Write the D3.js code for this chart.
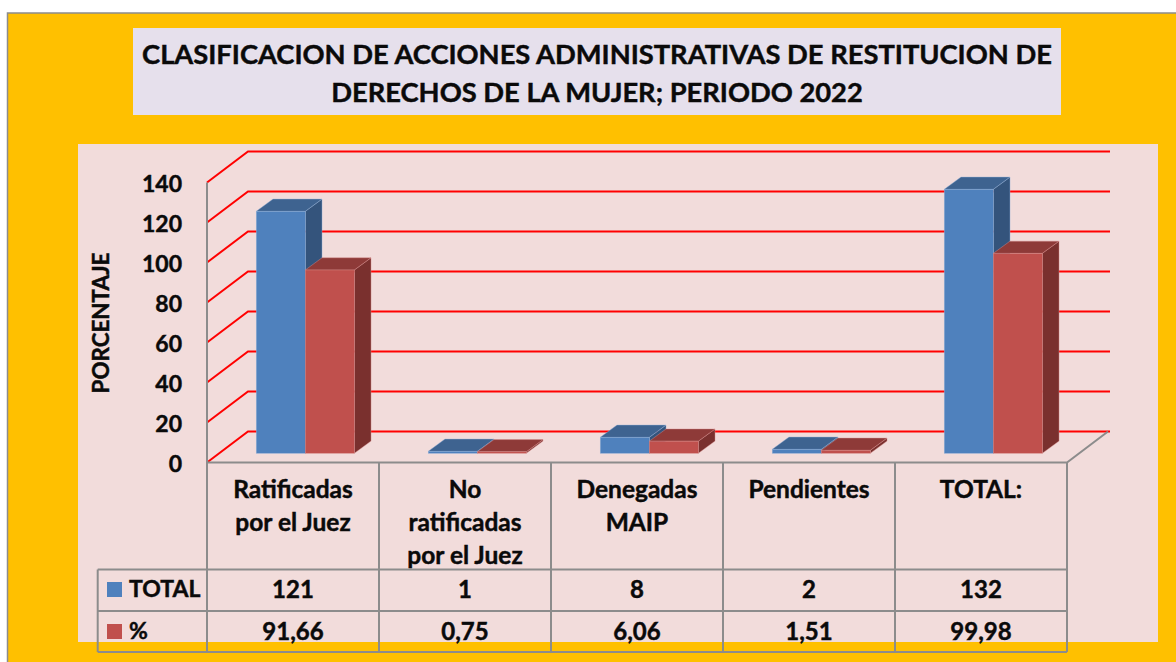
<!DOCTYPE html>
<html><head><meta charset="utf-8">
<script src="https://cdn.jsdelivr.net/npm/d3@7/dist/d3.min.js"></script>
<style>html,body{margin:0;background:#fff;overflow:hidden}svg{display:block}text{font-family:Lato,sans-serif;font-weight:700;fill:#0a0a0a;stroke:#0a0a0a;stroke-width:.45px}</style>
</head><body><svg id="c" width="1176" height="662"></svg>
<script>
const titleLines=["CLASIFICACION DE ACCIONES ADMINISTRATIVAS DE RESTITUCION DE","DERECHOS DE LA MUJER; PERIODO 2022"];
const categories=["Ratificadas por el Juez","No ratificadas por el Juez","Denegadas MAIP","Pendientes","TOTAL:"];
const categoryLines=[["Ratificadas","por el Juez"],["No","ratificadas","por el Juez"],["Denegadas","MAIP"],["Pendientes"],["TOTAL:"]];
const seriesNames=["TOTAL","%"];
const totalValues=[121,1,8,2,132];
const percentValues=[91.66,0.75,6.06,1.51,99.98];
const percentLabels=["91,66","0,75","6,06","1,51","99,98"];
const yTicks=[0,20,40,60,80,100,120,140];
const yTitle="PORCENTAJE";

const svg=d3.select("#c");
const gray="#8c8c8c";
const palette=[{f:"#4f81bd",t:"#3e6390",s:"#34547c"},{f:"#c0504d",t:"#8e3a38",s:"#7a302e"}];
svg.append("rect").attr("x",7.5).attr("y",13).attr("width",1170).attr("height",650).attr("fill","#ffc000").attr("stroke",gray).attr("stroke-width",1.5);
svg.append("rect").attr("x",78).attr("y",144).attr("width",1080).attr("height",498).attr("fill","#f2dcdb");
svg.append("rect").attr("x",133).attr("y",28).attr("width",928).attr("height",87).attr("fill","#e6e0ec");
svg.selectAll(".title").data(titleLines).join("text").attr("class","title")
 .attr("x",597).attr("y",(d,i)=>54+38*i).attr("dy","0.35em").attr("text-anchor","middle").attr("font-size",27.3).text(d=>d);

const y=d3.scaleLinear().domain([0,140]).range([462.5,182.5]);
const x=d3.scaleBand().domain(categories).range([207,1067]).paddingInner(0.43).paddingOuter(0.215);
const xs=d3.scaleBand().domain(seriesNames).range([0,x.bandwidth()]);
const wallDx=41,wallDy=31,floorInset=9.2,barDx=16.7,barDy=12.2,barShift=12.3;
const [x0,x1]=x.range();

// grid
const grid=svg.append("g").attr("fill","none").attr("stroke","#ff0000").attr("stroke-width",2);
yTicks.forEach(t=>{
 grid.append("path").attr("d",d3.line()([[x0,y(t)],[x0+wallDx,y(t)-wallDy],[x1+wallDx+2,y(t)-wallDy]]));
});
// axis frame
const frame=svg.append("g").attr("fill","none").attr("stroke",gray).attr("stroke-width",2);
const rows=[y(0),569.5,611,652];
frame.append("path").attr("d",d3.line()([[x0,y(140)],[x0,rows[3]]]));
frame.append("path").attr("d",d3.line()([[x0,y(0)],[x1,y(0)],[x1+wallDx,y(0)-wallDy]]));
categories.forEach(c=>{const cx=x(c)+x.bandwidth()+x.step()*0.215; frame.append("path").attr("d",d3.line()([[cx,y(0)],[cx,rows[3]]]));});
rows.slice(1).forEach(r=>frame.append("path").attr("d",d3.line()([[97.7,r],[x1,r]])));
frame.append("path").attr("d",d3.line()([[97.7,rows[1]],[97.7,rows[3]]]));

// bars
const barsG=svg.append("g");
[totalValues,percentValues].forEach((vals,si)=>{
 const p=palette[si];
 const g=barsG.selectAll(null).data(vals.map((v,i)=>({v,c:categories[i]}))).join("g").attr("stroke",si?"#d98f8d":"#8fb0d8").attr("stroke-width",0.6).attr("stroke-opacity",0.7);
 const L=d=>x(d.c)+xs(seriesNames[si])+barShift, W=xs.bandwidth(), B=y(0)-floorInset, T=d=>y(d.v)-floorInset;
 g.append("path").attr("fill",p.s).attr("d",d=>d3.line()([[L(d)+W,T(d)],[L(d)+W+barDx,T(d)-barDy],[L(d)+W+barDx,B-barDy],[L(d)+W,B]])+"Z");
 g.append("path").attr("fill",p.t).attr("d",d=>d3.line()([[L(d),T(d)],[L(d)+barDx,T(d)-barDy],[L(d)+W+barDx,T(d)-barDy],[L(d)+W,T(d)]])+"Z");
 g.append("rect").attr("fill",p.f).attr("x",L).attr("y",T).attr("width",W).attr("height",d=>B-T(d));
});

// y axis
const ax=svg.append("g").attr("transform","translate(182,2)").call(d3.axisLeft(y).tickValues(yTicks).tickSize(0).tickPadding(0));
ax.select(".domain").remove();
ax.selectAll("text").attr("font-size",23).style("font-family","Lato,sans-serif").style("font-weight",700);
svg.append("text").attr("transform","translate(101,323) rotate(-90)").attr("text-anchor","middle").attr("dy","0.35em").attr("font-size",22.4).text(yTitle);

// category labels and table
categories.forEach((c,i)=>{
 const cx=x(c)+x.bandwidth()/2;
 categoryLines[i].forEach((l,j)=>svg.append("text").attr("x",cx).attr("y",489+33*j).attr("dy","0.35em").attr("text-anchor","middle").attr("font-size",24.5).text(l));
 svg.append("text").attr("x",cx).attr("y",589.5).attr("dy","0.35em").attr("text-anchor","middle").attr("font-size",24).text(totalValues[i]);
 svg.append("text").attr("x",cx).attr("y",631.5).attr("dy","0.35em").attr("text-anchor","middle").attr("font-size",24).text(percentLabels[i]);
});
seriesNames.forEach((s,i)=>{
 const cy=589.5+42*i;
 svg.append("rect").attr("x",107).attr("y",cy-7.5).attr("width",15).attr("height",15).attr("fill",palette[i].f);
 svg.append("text").attr("x",129).attr("y",cy-1).attr("dy","0.35em").attr("font-size",23).text(s);
});
</script></body></html>
